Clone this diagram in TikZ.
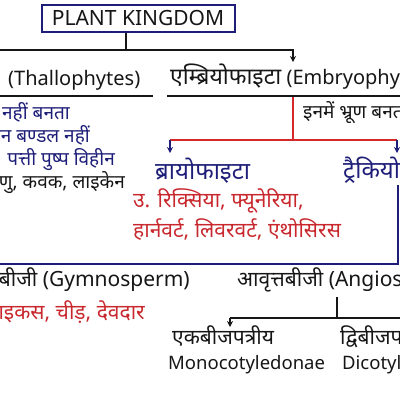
\documentclass[tikz,border=0pt]{standalone}
\usepackage{fontspec}
\setmainfont{Noto Sans}
\newfontfamily\deva[Script=Devanagari]{Noto Sans}
\usepackage{xcolor}
\usetikzlibrary{arrows.meta,positioning,calc}
\definecolor{navy}{HTML}{1E1E78}
\definecolor{redline}{HTML}{D62828}
\definecolor{redtext}{HTML}{C8282D}
\definecolor{ink}{HTML}{161616}

\begin{document}
\begin{tikzpicture}[
    x=1pt, y=-1pt,
    every node/.style={inner sep=0pt, text=ink},
    titlebox/.style={draw=navy, line width=2pt, minimum width=193pt, minimum height=27pt, font=\fontsize{21}{21}\selectfont},
    head/.style={font=\deva\fontsize{24}{24}\selectfont},
    latin/.style={font=\deva\fontsize{20}{20}\selectfont},
    sub/.style={font=\deva\fontsize{21}{21}\selectfont},
    body/.style={font=\deva\fontsize{19}{19}\selectfont},
    ex/.style={font=\deva\fontsize{21}{21}\selectfont, text=redtext},
    inkline/.style={ink, line width=1.8pt},
    navyline/.style={navy, line width=1.8pt},
    redbar/.style={redline, line width=2pt},
    flow/.style={-{Stealth[length=6pt, width=6pt]}},
]
\useasboundingbox (0,0) rectangle (400,400);

% === TOP: Plant kingdom ===
\node[titlebox] (kingdom) at (138,18) {PLANT KINGDOM};

\coordinate (split) at (126,50);
\coordinate (offleft) at (0,50);
\coordinate (embtop) at (293,62);
\draw[inkline] (kingdom.south -| split) -- (split);
\draw[inkline, flow] (offleft) -- (split) -| (embtop);

\node[latin, anchor=base west] (thallo) at (8,85) {(Thallophytes)};
\node[latin, anchor=base west] (embryo) at (170,84) {{\fontsize{23}{23}\selectfont एम्ब्रियोफाइटा} (Embryophytes)};
\draw[inkline] (0,96) -- (153,96);
\draw[inkline] (167,96) -- (400,96);

% === LEFT: thallophyta notes ===
\node[body, anchor=base east, text=navy] (t1) at (70,119) {नहीं बनता};
\node[body, anchor=base east, text=navy] (t2) at (90,142) {संवहन बण्डल नहीं};
\node[body, anchor=base east, text=navy] (t3) at (115,165) {पत्ती पुष्प विहीन};
\node[body, anchor=base east] (t4) at (125,188) {जीवाणु, कवक, लाइकेन};

% === RIGHT: embryophyta ===
\node[body, anchor=base west] (note) at (303,118) {इनमें भ्रूण बनता};

\coordinate (esplit) at (293,97);
\coordinate (ejoin) at (293,140);
\coordinate (bryotop) at (170,153);
\coordinate (trachtop) at (397,153);
\draw[redbar] (esplit) -- (ejoin);
\draw[redbar] (bryotop |- ejoin) -- (trachtop |- ejoin);
\draw[navy, line width=1.6pt, flow] (bryotop |- ejoin) -- (bryotop);
\draw[navy, line width=1.6pt, flow] (trachtop |- ejoin) -- (trachtop);

\node[head, anchor=base west, text=navy] (bryo) at (155,179) {ब्रायोफाइटा};
\node[head, anchor=base west, text=navy] (trach) at (343,178) {ट्रैकियोफाइटा};

\node[ex, anchor=base west] (bryoex1) at (133,207) {उ. रिक्सिया, फ्यूनेरिया,};
\node[ex, anchor=base west] (bryoex2) at (133,237) {हार्नवर्ट, लिवरवर्ट, एंथोसिरस};

% Tracheophyta branch
\coordinate (tdown) at (398,185);
\coordinate (tcorner) at (398,264);
\coordinate (tleft) at (0,264);
\draw[navyline] (tdown) -- (tcorner) -- (tleft);

% === BOTTOM: seed plants ===
\node[sub, anchor=base east] (gymno) at (190,286) {अनावृतबीजी (Gymnosperm)};
\node[ex, anchor=base east] (gymnoex) at (145,319) {साइकस, चीड़, देवदार};
\node[sub, anchor=base west] (angio) at (237,286) {आवृत्तबीजी (Angiosperm)};

\coordinate (asplit) at (337,297);
\coordinate (ajoin) at (337,318);
\coordinate (monotop) at (230,327);
\coordinate (offright) at (400,318);
\draw[inkline] (asplit) -- (ajoin);
\draw[inkline] (offright) -- (monotop |- ajoin);
\draw[ink, line width=1.4pt, flow] (monotop |- ajoin) -- (monotop);

\node[sub, anchor=base west] (mono) at (172,344) {एकबीजपत्रीय};
\node[latin, font=\deva\fontsize{18.5}{18.5}\selectfont, anchor=base west] (monoen) at (168,369) {Monocotyledonae};
\node[sub, anchor=base west] (di) at (340,344) {द्विबीजपत्रीय};
\node[latin, font=\deva\fontsize{18.5}{18.5}\selectfont, anchor=base west] (dien) at (342,369) {Dicotyledonae};

\end{tikzpicture}
\end{document}
